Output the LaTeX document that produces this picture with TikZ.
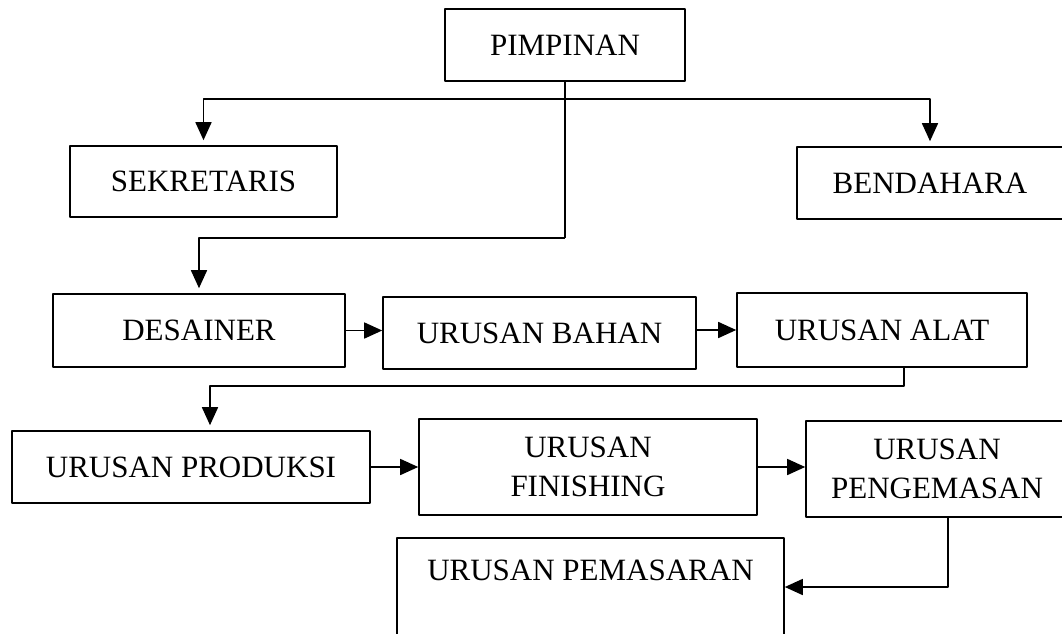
\documentclass[tikz,border=0pt]{standalone}
\usepackage{fontspec}
\setmainfont{Liberation Serif}
\usetikzlibrary{arrows.meta}
\begin{document}
\begin{tikzpicture}[x=0.5pt, y=-0.5pt, font=\fontsize{15.5}{19.5}\selectfont, line join=round, line width=0.8pt, >={Triangle[length=9pt,width=8pt]},
  box/.style={draw, align=center, inner sep=0pt},
  link/.style={->, shorten >=2.5pt}]
\useasboundingbox (0,0) rectangle (1062,633);
\clip (0,0) rectangle (1062,633);
\node[box, minimum width=120pt, minimum height=36pt] (pim) at (565,45) {PIMPINAN};
\node[box, minimum width=133.5pt, minimum height=35.5pt] (sek) at (203.5,181.5) {SEKRETARIS};
\node[box, minimum width=133pt, minimum height=36pt] (ben) at (930,183) {BENDAHARA};
\node[box, minimum width=146pt, minimum height=36.5pt] (des) at (199,330.5) {DESAINER};
\node[box, minimum width=156.5pt, minimum height=36pt] (bahan) at (539.5,333) {URUSAN BAHAN};
\node[box, minimum width=145pt, minimum height=37pt] (alat) at (882,330) {URUSAN ALAT};
\node[box, minimum width=179pt, minimum height=36pt] (prod) at (191,467) {URUSAN PRODUKSI};
\node[box, minimum width=169pt, minimum height=48pt] (fin) at (588,467) {URUSAN\\FINISHING};
\node[box, minimum width=131pt, minimum height=48pt] (peng) at (937,469) {URUSAN\\PENGEMASAN};
\node[box, minimum width=193.5pt, text height=21pt, text depth=28pt] (pem) at (590.5,587) {URUSAN PEMASARAN};
\coordinate (split) at (565,99);
\coordinate (turn) at (565,238);
\coordinate (back) at (210,386);
\draw (pim.south) -- (turn);
\draw[link] (split) -| (sek.north);
\draw[link] (split) -| (ben.north);
\draw[link] (turn) -| (des.north);
\draw[->] (des.east) -- (des.east -| bahan.west);
\draw[->] (bahan.east |- alat.west) -- (alat.west);
\draw[link] ([xshift=11pt]alat.south) |- (back) -- (back |- prod.north);
\draw[->] (prod.east) -- (fin.west);
\draw[->] (fin.east) -- (fin.east -| peng.west);
\draw[->] ([xshift=5.5pt]peng.south) |- (pem.east);
\end{tikzpicture}
\end{document}
